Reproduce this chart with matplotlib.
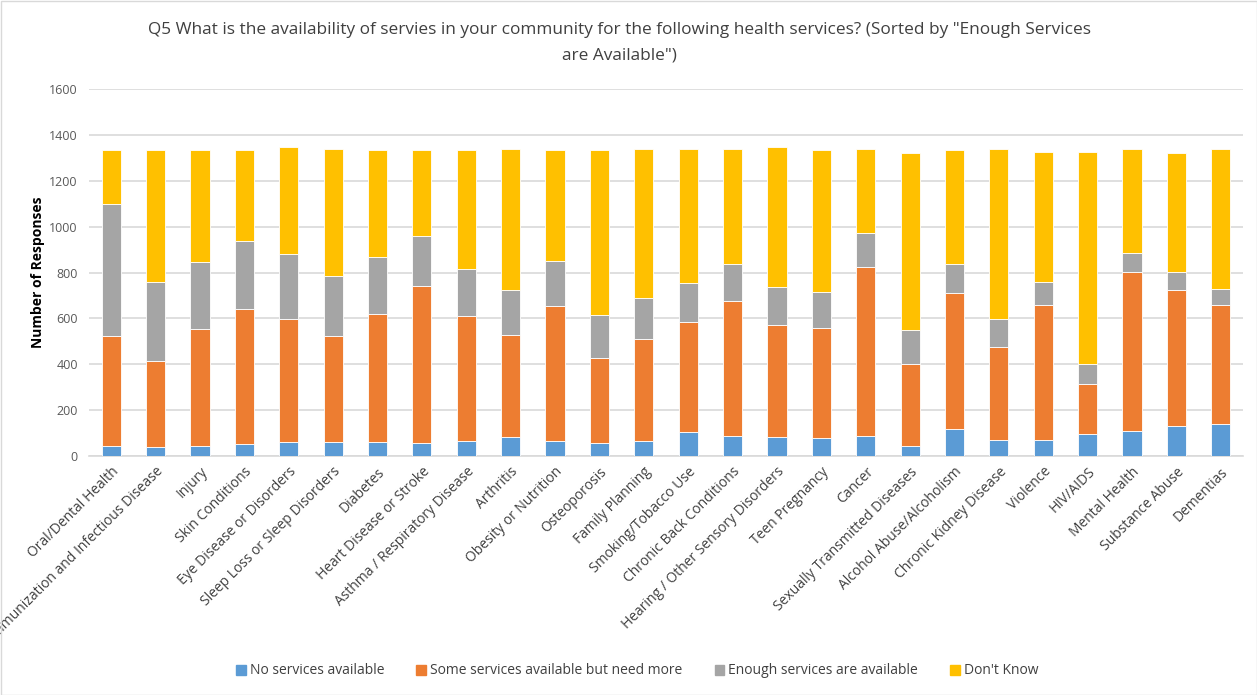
import matplotlib
matplotlib.use("Agg")
import matplotlib.pyplot as plt
from matplotlib.patches import Rectangle
import numpy as np

categories = [
    "Oral/Dental Health", "Immunization and Infectious Disease", "Injury",
    "Skin Conditions", "Eye Disease or Disorders", "Sleep Loss or Sleep Disorders",
    "Diabetes", "Heart Disease or Stroke", "Asthma / Respiratory Disease",
    "Arthritis", "Obesity or Nutrition", "Osteoporosis", "Family Planning",
    "Smoking/Tobacco Use", "Chronic Back Conditions",
    "Hearing / Other Sensory Disorders", "Teen Pregnancy", "Cancer",
    "Sexually Transmitted Diseases", "Alcohol Abuse/Alcoholism",
    "Chronic Kidney Disease", "Violence", "HIV/AIDS", "Mental Health",
    "Substance Abuse", "Dementias",
]

no_services = [45, 38, 45, 51, 62, 62, 62, 58, 64, 83, 64, 58, 64,
               103, 89, 83, 77, 89, 45, 116, 71, 71, 96, 108, 132, 141]
some_services = [477, 376, 509, 590, 535, 460, 559, 683, 546, 446, 592, 371, 445,
                 483, 585, 490, 483, 735, 358, 595, 406, 589, 219, 696, 592, 519]
enough_services = [578, 346, 293, 295, 284, 264, 247, 220, 207, 195, 193, 187, 181,
                   170, 163, 162, 157, 150, 148, 126, 120, 100, 88, 83, 80, 70]
dont_know = [233, 573, 486, 397, 465, 553, 465, 372, 516, 615, 484, 717, 649,
             583, 502, 611, 616, 365, 770, 496, 742, 567, 924, 452, 517, 609]

series_names = ["No services available", "Some services available but need more",
                "Enough services are available", "Don't Know"]
series_colors = ["#5B9BD5", "#ED7D31", "#A5A5A5", "#FFC000"]
y_ticks = [0, 200, 400, 600, 800, 1000, 1200, 1400, 1600]

font = "Open Sans"
plt.rcParams["font.family"] = [font, "DejaVu Sans"]

fig = plt.figure(figsize=(12.57, 6.95), dpi=100)
ax = fig.add_axes([89 / 1257, 1 - 456 / 695, (1243 - 89) / 1257, (456 - 89) / 695])

x = np.arange(len(categories))
bottom = np.zeros(len(categories))
for vals, name, color in zip([no_services, some_services, enough_services, dont_know],
                             series_names, series_colors):
    vals = np.array(vals, dtype=float)
    ax.bar(x, vals, width=0.43, bottom=bottom, color=color, label=name,
           edgecolor="white", linewidth=0.6, zorder=3)
    bottom += vals

ax.set_xlim(-0.5, len(categories) - 0.5)
ax.set_ylim(0, 1600)
ax.set_yticks(y_ticks)
ax.set_yticklabels([str(t) for t in y_ticks], fontsize=9, color="#595959")
ax.yaxis.grid(True, color="#D9D9D9", linewidth=1.2, zorder=0)
ax.set_axisbelow(True)
for side in ["top", "right", "left"]:
    ax.spines[side].set_visible(False)
ax.spines["bottom"].set_color("#D9D9D9")
ax.spines["bottom"].set_linewidth(1.2)
ax.tick_params(axis="both", length=0, pad=8)

ax.set_xticks(x)
ax.set_xticklabels(categories, rotation=45, ha="right", rotation_mode="anchor",
                   fontsize=10, color="#404040")
ax.tick_params(axis="x", pad=6)

ax.set_ylabel("Number of Responses", fontsize=10, fontweight="bold", color="black",
              labelpad=3)

fig.text(0.493, 1 - 30 / 695,
         "Q5 What is the availability of servies in your community for the following health services? (Sorted by \"Enough Services",
         ha="center", va="center", fontsize=12.4, color="#404040")
fig.text(0.493, 1 - 56 / 695, "are Available\")",
         ha="center", va="center", fontsize=12.4, color="#404040")

handles = [Rectangle((0, 0), 1, 1, color=c) for c in series_colors]
fig.legend(handles, series_names, loc="center", bbox_to_anchor=(0.507, 1 - 671 / 695),
           ncol=4, frameon=False, fontsize=10, handlelength=0.7, handleheight=0.7,
           handletextpad=0.3, columnspacing=2.3, labelcolor="#404040")

fig.add_artist(Rectangle((0.5 / 1257, 0.5 / 695), 1 - 1 / 1257, 1 - 1 / 695,
                         transform=fig.transFigure, fill=False,
                         edgecolor="#D9D9D9", linewidth=1))

fig.savefig("out.png", dpi=100)
